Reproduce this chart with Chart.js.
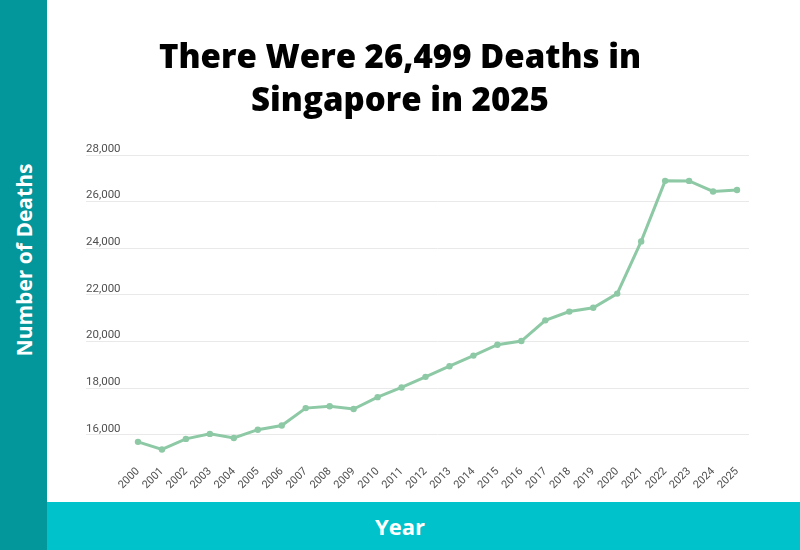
<!DOCTYPE html>
<html>
<head>
<meta charset="utf-8">
<script src="https://cdn.jsdelivr.net/npm/chart.js@4/dist/chart.umd.min.js"></script>
<style>
  html, body { margin: 0; padding: 0; }
  body { width: 800px; height: 550px; position: relative; overflow: hidden; background: #ffffff; font-family: "Open Sans", sans-serif; }
  #leftbar { position: absolute; left: 0; top: 0; width: 47px; height: 550px; background: #03969b; }
  #bottombar { position: absolute; left: 47px; top: 502px; width: 753px; height: 48px; background: #00c2cb; }
  #ytitle { position: absolute; left: 23.5px; top: 260px; transform: translate(-50%, -50%) rotate(-90deg); color: #fff; font-weight: 700; font-size: 21px; white-space: nowrap; }
  #xtitle { position: absolute; left: 400px; top: 526px; transform: translate(-50%, -50%); color: #fff; font-weight: 700; font-size: 22px; white-space: nowrap; }
  #title { position: absolute; left: 0; top: 34px; width: 800px; text-align: center; font-weight: 800; font-size: 33px; line-height: 43px; color: #000; }
  #wrap { position: absolute; left: 47px; top: 0; width: 753px; height: 502px; }
</style>
</head>
<body>
<div id="leftbar"></div>
<div id="bottombar"></div>
<div id="ytitle">Number of Deaths</div>
<div id="xtitle">Year</div>
<div id="wrap"><canvas id="c"></canvas></div>
<div id="title">There Were 26,499 Deaths in<br>Singapore in 2025</div>
<script>
const years = ["2000","2001","2002","2003","2004","2005","2006","2007","2008","2009","2010","2011","2012","2013","2014","2015","2016","2017","2018","2019","2020","2021","2022","2023","2024","2025"];
const deaths = [15693,15367,15820,16035,15860,16215,16393,17140,17222,17101,17610,18027,18481,18938,19393,19862,20017,20905,21282,21446,22054,24292,26891,26888,26435,26499];
const yTicks = [16000,18000,20000,22000,24000,26000,28000];
const yMin = 15000;
const yMax = 28000;

new Chart(document.getElementById('c'), {
  type: 'line',
  data: {
    labels: years,
    datasets: [{
      data: deaths,
      borderColor: '#8dc9a5',
      backgroundColor: '#8dc9a5',
      borderWidth: 3,
      pointRadius: 3.2,
      pointHoverRadius: 3.2,
      pointBorderWidth: 0,
      tension: 0,
      fill: false
    }]
  },
  options: {
    responsive: true,
    maintainAspectRatio: false,
    animation: false,
    layout: { padding: { left: 39, right: 51, top: 155, bottom: 4 } },
    plugins: { legend: { display: false }, tooltip: { enabled: false }, title: { display: false } },
    scales: {
      x: {
        type: 'category',
        offset: true,
        grid: { display: false, drawTicks: false },
        border: { display: false },
        afterFit: (s) => { s.height = 40; },
        ticks: {
          autoSkip: false,
          maxRotation: 45,
          minRotation: 45,
          padding: 7,
          color: '#505050',
          font: { family: 'Roboto', size: 11 }
        }
      },
      y: {
        min: yMin,
        max: yMax,
        afterBuildTicks: (s) => { s.ticks = yTicks.map(v => ({ value: v })); },
        afterFit: (s) => { s.width = 40; },
        grid: { color: '#e9e9e9', lineWidth: 1, drawTicks: true, tickLength: 40 },
        border: { display: false },
        ticks: {
          crossAlign: 'far',
          padding: 0,
          labelOffset: -6,
          color: '#505050',
          font: { family: 'Roboto', size: 11.5 },
          callback: (v) => v.toLocaleString('en-US')
        }
      }
    }
  }
});
</script>
</body>
</html>
